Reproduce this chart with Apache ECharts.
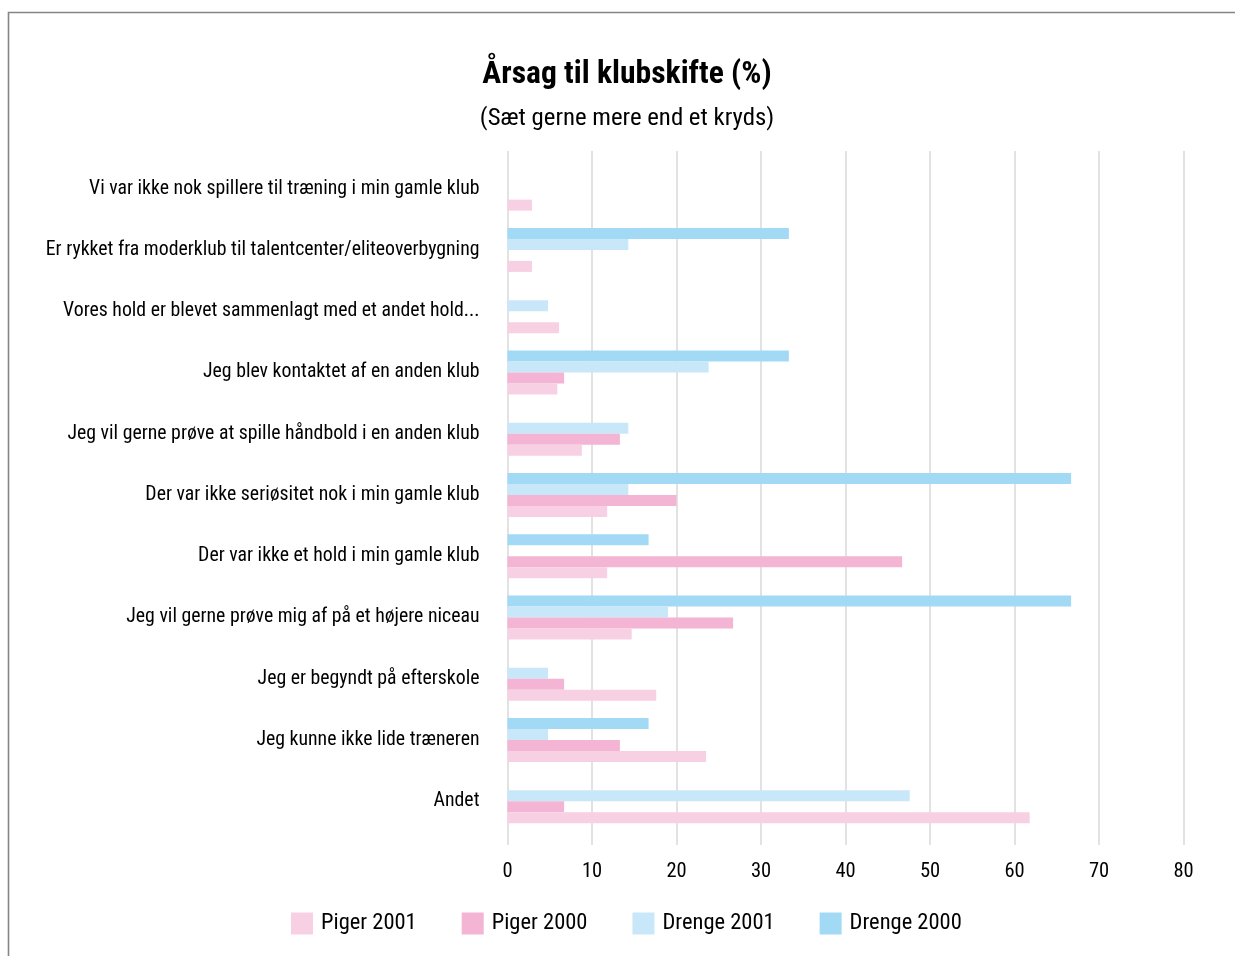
<!DOCTYPE html>
<html>
<head>
<meta charset="utf-8">
<script src="https://cdn.jsdelivr.net/npm/echarts@6/dist/echarts.min.js"></script>
<style>
  html, body { margin: 0; padding: 0; background: #ffffff; }
  #chart { width: 1235px; height: 956px; }
</style>
</head>
<body>
<div id="chart"></div>
<script>
// Reasons for changing club, share of respondents (%) per group
const categories = [
  'Vi var ikke nok spillere til træning i min gamle klub',
  'Er rykket fra moderklub til talentcenter/eliteoverbygning',
  'Vores hold er blevet sammenlagt med et andet hold...',
  'Jeg blev kontaktet af en anden klub',
  'Jeg vil gerne prøve at spille håndbold i en anden klub',
  'Der var ikke seriøsitet nok i min gamle klub',
  'Der var ikke et hold i min gamle klub',
  'Jeg vil gerne prøve mig af på et højere niceau',
  'Jeg er begyndt på efterskole',
  'Jeg kunne ikke lide træneren',
  'Andet'
];
const seriesNames = ['Piger 2001', 'Piger 2000', 'Drenge 2001', 'Drenge 2000'];
const piger2001  = [2.9, 2.9, 6.1, 5.9, 8.8, 11.8, 11.8, 14.7, 17.6, 23.5, 61.8];
const piger2000  = [0, 0, 0, 6.7, 13.3, 20.0, 46.7, 26.7, 6.7, 13.3, 6.7];
const drenge2001 = [0, 14.3, 4.8, 23.8, 14.3, 14.3, 0, 19.0, 4.8, 4.8, 47.6];
const drenge2000 = [0, 33.3, 0, 33.3, 0, 66.7, 16.7, 66.7, 0, 16.7, 0];
const xTicks = { min: 0, max: 80, interval: 10 };

const FONT = '"Roboto Condensed", "Liberation Sans Narrow", "Arial Narrow", "DejaVu Sans Condensed", sans-serif';
const colors = {
  'Piger 2001': '#f7d1e3',
  'Piger 2000': '#f4b4d4',
  'Drenge 2001': '#c8e8fa',
  'Drenge 2000': '#a2daf6'
};
const valuesByName = {
  'Piger 2001': piger2001,
  'Piger 2000': piger2000,
  'Drenge 2001': drenge2001,
  'Drenge 2000': drenge2000
};

const chart = echarts.init(document.getElementById('chart'), null, { renderer: 'canvas' });

// Bars are stacked in the group top-to-bottom: Drenge 2000, Drenge 2001, Piger 2000, Piger 2001
const drawOrder = ['Drenge 2000', 'Drenge 2001', 'Piger 2000', 'Piger 2001'];

chart.setOption({
  backgroundColor: '#ffffff',
  animation: false,
  title: [
    {
      text: 'Årsag til klubskifte (%)',
      left: 622, top: 54, textAlign: 'center',
      textStyle: { fontFamily: FONT, fontSize: 31.6, fontWeight: 'bold', color: '#000000' }
    },
    {
      text: '(Sæt gerne mere end et kryds)',
      left: 622, top: 101, textAlign: 'center',
      textStyle: { fontFamily: FONT, fontSize: 24.8, fontWeight: 'normal', color: '#000000' }
    }
  ],
  graphic: [
    {
      type: 'rect', silent: true,
      shape: { x: 8.5, y: 12.5, width: 1300, height: 1000 },
      style: { fill: 'none', stroke: '#858585', lineWidth: 1.6 }
    }
  ],
  legend: {
    data: seriesNames,
    left: 286, top: 907,
    itemWidth: 22, itemHeight: 22, itemGap: 45,
    icon: 'rect',
    textStyle: { fontFamily: FONT, fontSize: 22.5, color: '#000000', padding: [0, 0, 0, 3] }
  },
  grid: [
    { left: 507.5, width: 676, top: 158, height: 674, containLabel: false, outerBoundsMode: 'none' },
    { left: 507.5, width: 676, top: 151, height: 694, containLabel: false, outerBoundsMode: 'none' }
  ],
  xAxis: [
    { gridIndex: 0, type: 'value', min: xTicks.min, max: xTicks.max, interval: xTicks.interval, show: false },
    {
      gridIndex: 1, type: 'value', min: xTicks.min, max: xTicks.max, interval: xTicks.interval,
      axisLine: { show: false }, axisTick: { show: false },
      splitLine: { show: true, lineStyle: { color: '#d9d9d9', width: 1.5 } },
      axisLabel: { fontFamily: FONT, fontSize: 20.5, color: '#000000', margin: 16 }
    }
  ],
  yAxis: [
    {
      gridIndex: 0, type: 'category', data: categories, inverse: true,
      axisLine: { show: false }, axisTick: { show: false },
      splitLine: { show: false },
      axisLabel: { fontFamily: FONT, fontSize: 19.8, color: '#000000', margin: 28 }
    },
    { gridIndex: 1, type: 'value', show: false }
  ],
  series: drawOrder.map(name => ({
    name: name,
    type: 'bar',
    xAxisIndex: 0, yAxisIndex: 0,
    data: valuesByName[name],
    barWidth: 11,
    barGap: '0%',
    itemStyle: { color: colors[name] }
  }))
});
</script>
</body>
</html>
